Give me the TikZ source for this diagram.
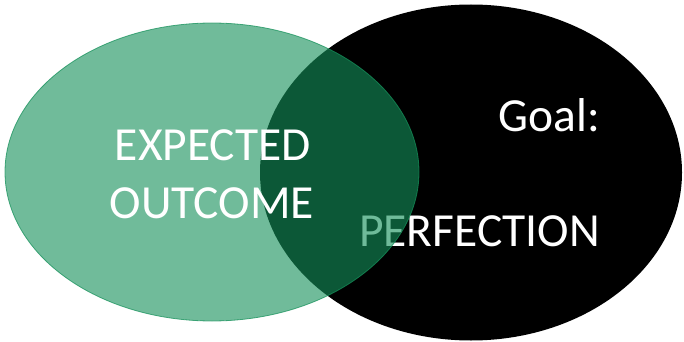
\documentclass[tikz,border=0pt]{standalone}
\usepackage{fontspec}
\setmainfont{Carlito}
\usetikzlibrary{shapes.geometric}
\definecolor{venngreen}{RGB}{21,144,90}
\begin{document}
\begin{tikzpicture}
[x=1pt, y=-1pt, font=\fontsize{47.5}{57}\selectfont]
\tikzstyle{set}=[ellipse, inner sep=0mm]
\tikzstyle{word}=[text=white, inner sep=0mm, anchor=base]
\useasboundingbox (0,0) rectangle (684,342);

\node[set, fill=black, minimum width=422pt, minimum height=336pt]	(goal)	at (471,172.5)	{};
\node[word, anchor=base east]	(goaltext)	at (600,131)	{Goal:};
\node[word, anchor=base east]	(perfection)	at (600,246)	{PERFECTION};

\node[set, fill=venngreen, fill opacity=0.61, draw=venngreen, draw opacity=0.75, line width=0.8pt,
      minimum width=414pt, minimum height=298pt]	(outcome)	at (212,172)	{};
\node[word]	(expected)	at (213,160)	{EXPECTED};
\node[word]	(outcometext)	at (212,218)	{OUTCOME};
\end{tikzpicture}
\end{document}
